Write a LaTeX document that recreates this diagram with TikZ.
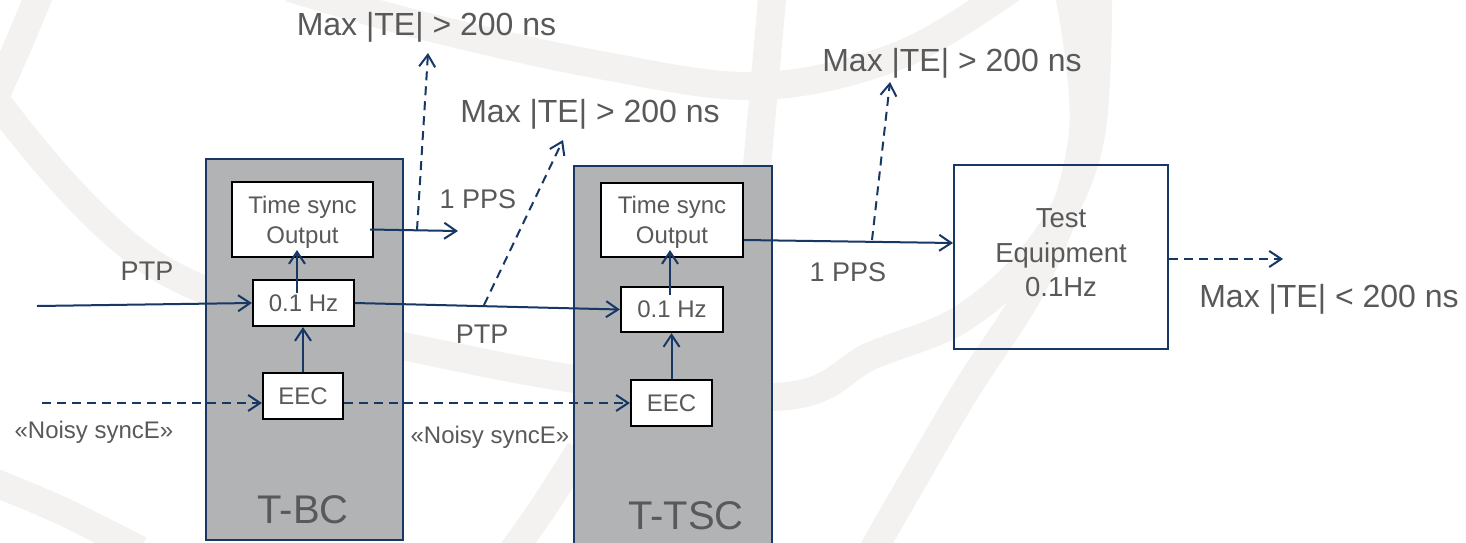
\documentclass[tikz,border=0pt]{standalone}
\usepackage{fontspec}
\setmainfont{Liberation Sans}
\usetikzlibrary{arrows.meta,calc}
\definecolor{navy}{RGB}{23,55,100}
\definecolor{txt}{RGB}{89,89,89}
\definecolor{boxgrey}{RGB}{178,179,181}
\definecolor{wm}{RGB}{243,242,241}
\newcommand{\fsz}[2]{\fontsize{#1}{#2}\selectfont}
\tikzset{
  wmark/.style={draw=wm, line width=28pt},
  bigbox/.style={draw=navy, fill=boxgrey, line width=2pt, anchor=north west, inner sep=0pt},
  smallbox/.style={draw=black, fill=white, line width=2.2pt, text=txt, font=\fsz{24}{30}, inner sep=0pt, align=center},
  conn/.style={draw=navy, line width=2pt, -{Straight Barb[length=12pt,width=16pt]}},
  dconn/.style={conn, dash pattern=on 9pt off 6pt},
  lbl/.style={text=txt, anchor=base, inner sep=0pt},
}
\begin{document}
\begin{tikzpicture}[x=1pt,y=-1pt]
\useasboundingbox (0,0) rectangle (1466,542);
\fill[white] (0,0) rectangle (1466,542);
% watermark
\draw[wmark] plot[smooth, tension=0.6] coordinates {(290,-12) (420,25) (600,65) (760,86) (900,55) (1012,-12)};
\draw[wmark] plot[smooth, tension=0.6] coordinates {(42,-12) (16,50) (-12,112)};
\draw[wmark] plot[smooth, tension=0.6] coordinates {(-15,85) (165,271) (480,362) (770,397) (873,355) (966,316) (1045,240) (1090,140) (1098,-12)};
\draw[wmark] plot[smooth, tension=0.6] coordinates {(1068,-12) (1083,133) (1040,271) (960,400) (873,550)};
\draw[wmark] plot[smooth, tension=0.6] coordinates {(773,-12) (763,100) (752,220)};
\draw[wmark] plot[smooth, tension=0.6] coordinates {(-12,480) (60,510) (140,550)};
\draw[wmark] plot[smooth, tension=0.6] coordinates {(512,552) (545,505) (580,450)};
% big boxes
\node[bigbox, minimum width=197pt, minimum height=381pt] (tbc) at (205,158) {};
\node[bigbox, minimum width=198pt, minimum height=390pt] (ttsc) at (573,165) {};
\node[lbl, font=\fsz{40}{48}] (tbclbl) at (303,523) {T-BC};
\node[lbl, font=\fsz{40}{48}] (ttsclbl) at (686,529) {T-TSC};
% small boxes
\node[smallbox, minimum width=141pt, minimum height=75pt, text depth=0pt] (out1) at (302.5,219.5) {Time sync\\Output};
\node[smallbox, minimum width=101pt, minimum height=46pt] (hz1) at (303.5,303) {0.1 Hz};
\node[smallbox, minimum width=80pt, minimum height=46pt] (eec1) at (303,396) {EEC};
\node[smallbox, minimum width=142pt, minimum height=74pt, text depth=0pt] (out2) at (672,220) {Time sync\\Output};
\node[smallbox, minimum width=102pt, minimum height=45pt] (hz2) at (672,309.5) {0.1 Hz};
\node[smallbox, minimum width=81pt, minimum height=46pt] (eec2) at (671.5,403) {EEC};
\node[draw=navy, line width=2pt, minimum width=214pt, minimum height=184pt, inner sep=0pt, text=txt, font=\fsz{27.5}{34.5}, align=center, text depth=8.7pt] (test) at (1061,257) {Test\\Equipment\\0.1Hz};
% labels
\node[lbl, font=\fsz{32}{38}] (max1) at (426.5,35) {Max |TE| > 200 ns};
\node[lbl, font=\fsz{32}{38}] (max2) at (590,122) {Max |TE| > 200 ns};
\node[lbl, font=\fsz{32}{38}] (max3) at (952,71) {Max |TE| > 200 ns};
\node[lbl, font=\fsz{32}{38}] (max4) at (1329,307) {Max |TE| < 200 ns};
\node[lbl, font=\fsz{27}{32}] (ptp1) at (147,280) {PTP};
\node[lbl, font=\fsz{27}{32}] (ptp2) at (482,343) {PTP};
\node[lbl, font=\fsz{24}{30}] (noisy1) at (94,438) {«Noisy syncE»};
\node[lbl, font=\fsz{24}{30}] (noisy2) at (490,443) {«Noisy syncE»};
\node[lbl, font=\fsz{27}{32}] (pps1) at (478,208) {1 PPS};
\node[lbl, font=\fsz{27}{32}] (pps2) at (848,281) {1 PPS};
% free ends
\coordinate (ptpin) at (37,306);
\coordinate (syncin) at (42,403);
\coordinate (ppsend) at (458,231);
\coordinate (d1s) at (417,230);
\coordinate (d1e) at (428,53);
\coordinate (d2s) at (484,305);
\coordinate (d2e) at (563,140);
\coordinate (d3s) at (872,240);
\coordinate (d3e) at (890,82);
\coordinate (outend) at (1283,259);
% connectors
\draw[conn] (ptpin) -- (hz1.west);
\draw[dconn] (syncin) -- ($(eec1.west)+(0,7)$);
\draw[conn] (eec1.north) -- (eec1.north |- hz1.south);
\draw[conn] ($(hz1.center)+(-6.5,-10)$) -- ($(out1.south)+(-5.5,-8)$);
\draw[conn] (hz1.east) -- (hz2.west);
\draw[dconn] ($(eec1.east)+(0,7)$) -- (eec2.west);
\draw[conn] (eec2.north) -- (eec2.north |- hz2.south);
\draw[conn] ($(hz2.center)+(-2,-14.5)$) -- ($(out2.south)+(-2,-8)$);
\draw[conn] ($(out1.east)+(-4,10)$) -- (ppsend);
\draw[dconn] (d1s) -- (d1e);
\draw[dconn] (d2s) -- (d2e);
\draw[conn] ($(out2.east)+(0,20)$) -- ($(test.west)+(0,-14)$);
\draw[dconn] (d3s) -- (d3e);
\draw[dconn] ($(test.east)+(0,2)$) -- (outend);
\end{tikzpicture}
\end{document}
